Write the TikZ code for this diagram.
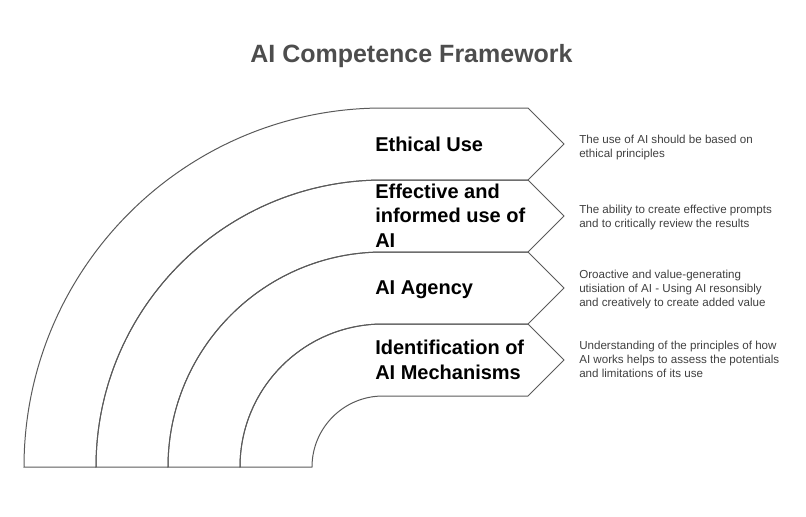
\documentclass[tikz,border=0pt]{standalone}
\usepackage{fontspec}
\setmainfont{Liberation Sans}
\usepackage{xcolor}
\usepackage{tikz}

\begin{document}
\begin{tikzpicture}[x=0.75pt,y=0.75pt,yscale=-1,xscale=1]
        \useasboundingbox (0,0) rectangle (806,517);
        %Shape: Band [id:ethical]
        \draw [color={rgb, 255:red, 90; green, 90; blue, 90 }  ][line width=0.75]   (24,467) arc[start angle=180, end angle=270, radius=359] -- (528,108) -- (564,144) -- (528,180) -- (383,180) arc[start angle=270, end angle=180, radius=287] -- cycle ;
        %Shape: Band [id:effective]
        \draw [color={rgb, 255:red, 90; green, 90; blue, 90 }  ][line width=0.75]   (96,467) arc[start angle=180, end angle=270, radius=287] -- (528,180) -- (564,216) -- (528,252) -- (383,252) arc[start angle=270, end angle=180, radius=215] -- cycle ;
        %Shape: Band [id:agency]
        \draw [color={rgb, 255:red, 90; green, 90; blue, 90 }  ][line width=0.75]   (168,467) arc[start angle=180, end angle=270, radius=215] -- (528,252) -- (564,288) -- (528,324) -- (383,324) arc[start angle=270, end angle=180, radius=143] -- cycle ;
        %Shape: Band [id:mechanisms]
        \draw [color={rgb, 255:red, 90; green, 90; blue, 90 }  ][line width=0.75]   (240,467) arc[start angle=180, end angle=270, radius=143] -- (528,324) -- (564,360) -- (528,396) -- (383,396) arc[start angle=270, end angle=180, radius=71] -- cycle ;
        % Text Node
        \node (title) at (411.5,63) [anchor=base][inner sep=0pt,color={rgb, 255:red, 77; green, 77; blue, 77 },font=\fontsize{18.75}{22}\selectfont\bfseries]  {AI Competence Framework};
        % Text Node
        \node (ethical) at (375,151) [anchor=base west][inner sep=0pt,align=left,font=\fontsize{15}{18.4}\selectfont\bfseries]  {Ethical Use};
        % Text Node
        \node (effective) at (375,247.3) [anchor=base west][inner sep=0pt,align=left,font=\fontsize{15}{18.4}\selectfont\bfseries]  {Effective and\\ informed use of\\ AI};
        % Text Node
        \node (agency) at (375,294.3) [anchor=base west][inner sep=0pt,align=left,font=\fontsize{15}{18.4}\selectfont\bfseries]  {AI Agency};
        % Text Node
        \node (mechanisms) at (375,379.3) [anchor=base west][inner sep=0pt,align=left,font=\fontsize{15}{18.4}\selectfont\bfseries]  {Identification of\\ AI Mechanisms};
        % Text Node
        \node (ethicaltext) at (579,157.3) [anchor=base west][inner sep=0pt,align=left,color={rgb, 255:red, 64; green, 64; blue, 64 },font=\fontsize{8.7}{10.5}\selectfont]  {The use of AI should be based on\\ ethical principles};
        % Text Node
        \node (effectivetext) at (579,227.3) [anchor=base west][inner sep=0pt,align=left,color={rgb, 255:red, 64; green, 64; blue, 64 },font=\fontsize{8.7}{10.5}\selectfont]  {The ability to create effective prompts\\ and to critically review the results};
        % Text Node
        \node (agencytext) at (579,306.3) [anchor=base west][inner sep=0pt,align=left,color={rgb, 255:red, 64; green, 64; blue, 64 },font=\fontsize{8.7}{10.5}\selectfont]  {Oroactive and value-generating\\ utisiation of AI - Using AI resonsibly\\ and creatively to create added value};
        % Text Node
        \node (mechanismstext) at (579,377.3) [anchor=base west][inner sep=0pt,align=left,color={rgb, 255:red, 64; green, 64; blue, 64 },font=\fontsize{8.7}{10.5}\selectfont]  {Understanding of the principles of how\\ AI works helps to assess the potentials\\ and limitations of its use};
\end{tikzpicture}
\end{document}
